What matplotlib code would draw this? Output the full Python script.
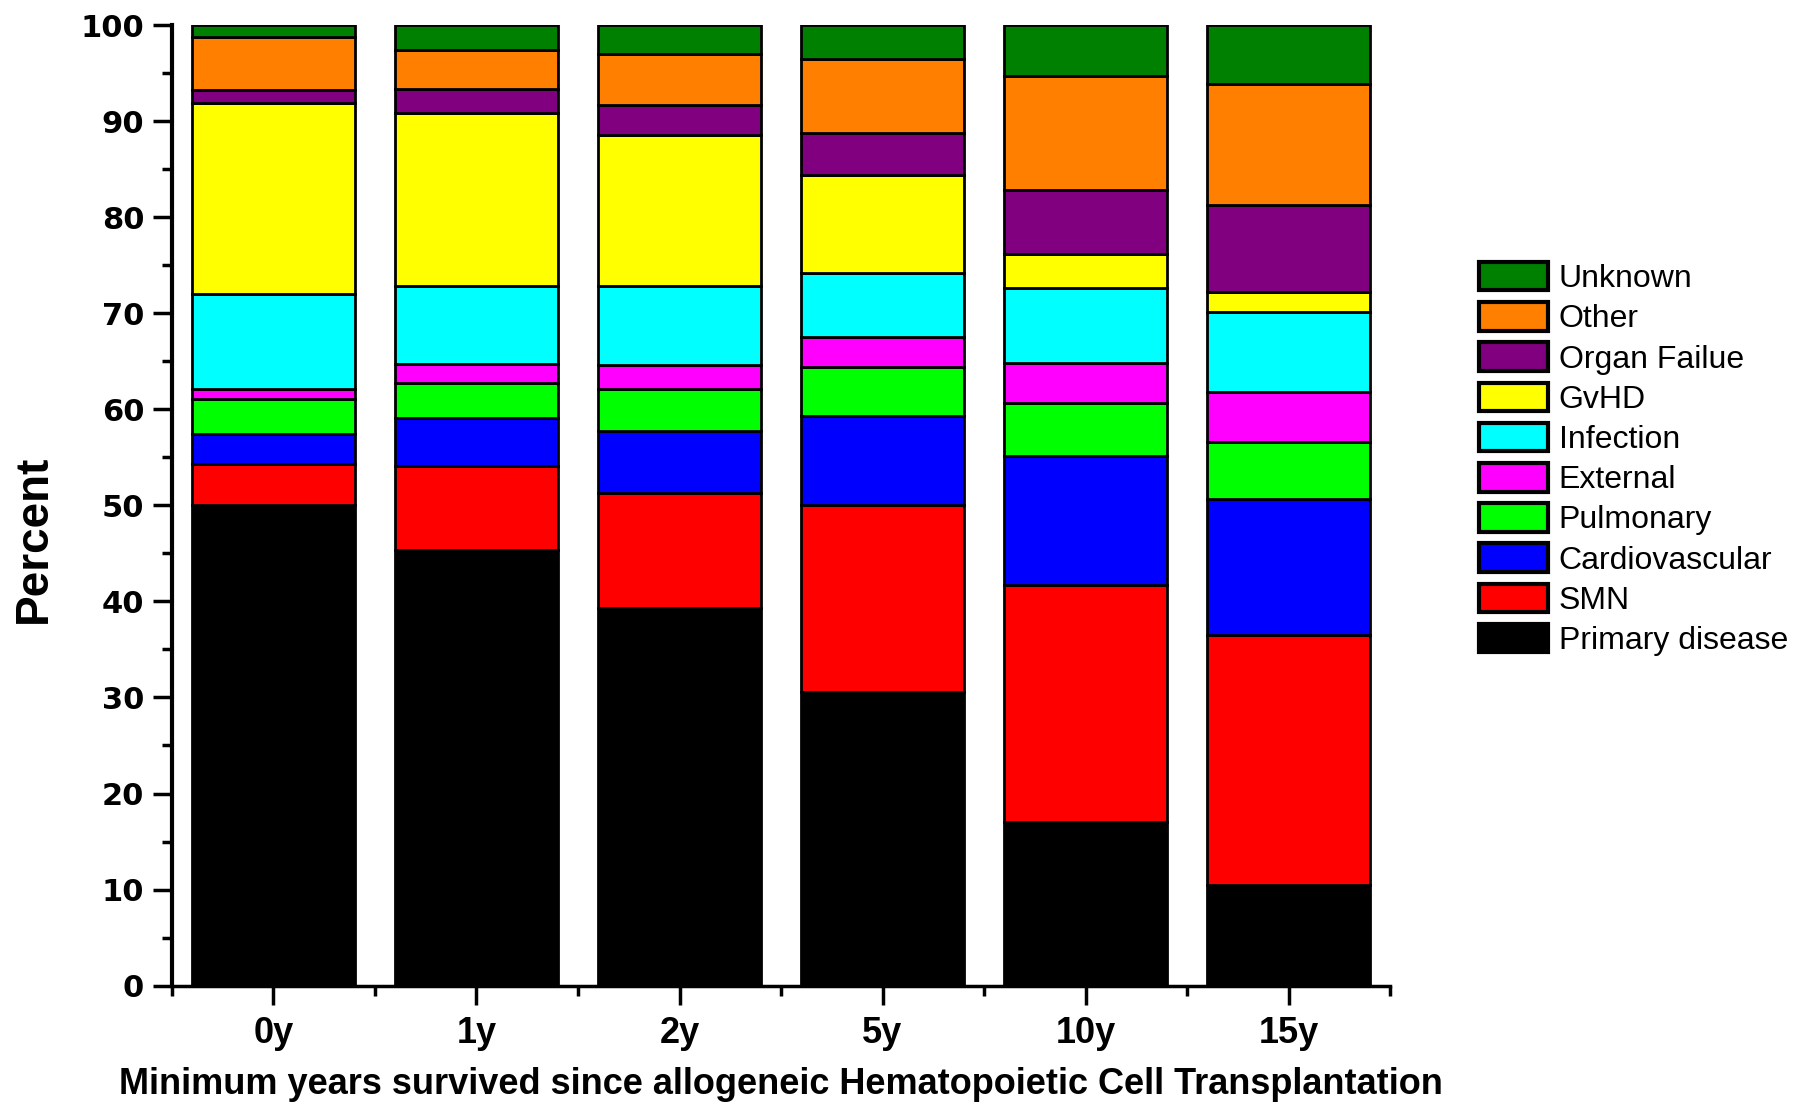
import numpy as np
import matplotlib
matplotlib.use("Agg")
import matplotlib.pyplot as plt
from matplotlib.ticker import MultipleLocator, FixedLocator

years = ['0y', '1y', '2y', '5y', '10y', '15y']

# percent of deaths by cause, bottom of the stack first
primary_disease = [50.0, 45.4, 39.3, 30.6, 17.0, 10.5]
smn = [4.3, 8.7, 12.0, 19.4, 24.7, 26.0]
cardiovascular = [3.1, 5.0, 6.5, 9.3, 13.4, 14.2]
pulmonary = [3.7, 3.7, 4.3, 5.1, 5.6, 5.9]
external = [1.0, 1.9, 2.5, 3.1, 4.1, 5.2]
infection = [9.9, 8.2, 8.2, 6.7, 7.8, 8.3]
gvhd = [19.9, 18.0, 15.8, 10.2, 3.6, 2.1]
organ_failure = [1.4, 2.5, 3.1, 4.4, 6.7, 9.1]
other = [5.5, 4.0, 5.3, 7.7, 11.8, 12.6]
unknown = [1.2, 2.6, 3.0, 3.5, 5.3, 6.1]

causes = ['Primary disease', 'SMN', 'Cardiovascular', 'Pulmonary', 'External',
          'Infection', 'GvHD', 'Organ Failue', 'Other', 'Unknown']
series = [primary_disease, smn, cardiovascular, pulmonary, external,
          infection, gvhd, organ_failure, other, unknown]
colors = ['#000000', '#ff0000', '#0000ff', '#00ff00', '#ff00ff',
          '#00ffff', '#ffff00', '#800080', '#ff8000', '#008000']

narrow = ['Liberation Sans Narrow', 'Liberation Sans', 'DejaVu Sans']

fig = plt.figure(figsize=(18.01, 11.05), dpi=100)
ax = fig.add_axes([0.0955, 0.1081, 0.6763, 0.869])

x = np.arange(len(years))
bottom = np.zeros(len(years))
handles = []
for name, vals, c in zip(causes, series, colors):
    vals = np.array(vals)
    b = ax.bar(x, vals, width=0.8, bottom=bottom, color=c, edgecolor='black',
               linewidth=2, label=name)
    handles.append(b)
    bottom += vals

ax.set_xlim(-0.5, 5.5)
ax.set_ylim(0, 100)

for s in ['top', 'right']:
    ax.spines[s].set_visible(False)
ax.spines['left'].set_linewidth(3)
ax.spines['bottom'].set_linewidth(2.5)

ax.yaxis.set_major_locator(MultipleLocator(10))
ax.yaxis.set_minor_locator(MultipleLocator(5))
ax.set_xticks(x)
ax.set_xticklabels(years)
ax.xaxis.set_minor_locator(FixedLocator(np.arange(-0.5, 6, 1.0)))

ax.tick_params(axis='y', which='major', direction='out', length=14, width=2.5, pad=6)
ax.tick_params(axis='y', which='minor', direction='out', length=7, width=2.5)
ax.tick_params(axis='x', which='major', direction='out', length=14, width=2.5, pad=8)
ax.tick_params(axis='x', which='minor', direction='out', length=7, width=2.5)

for lab in ax.get_yticklabels():
    lab.set_fontfamily(['DejaVu Sans'])
    lab.set_fontweight('bold')
    lab.set_fontsize(22)
for lab in ax.get_xticklabels():
    lab.set_fontfamily(narrow)
    lab.set_fontweight('bold')
    lab.set_fontsize(26)

fig.text(0.4337, 0.019, 'Minimum years survived since allogeneic Hematopoietic Cell Transplantation',
         ha='center', va='center', fontsize=26, fontweight='bold', family=narrow)
fig.text(0.019, 0.512, 'Percent', rotation=90, ha='center', va='center',
         fontsize=33, fontweight='bold', family=narrow)

leg = fig.legend(handles[::-1], causes[::-1], loc='upper left',
                 bbox_to_anchor=(0.8212, 0.763), frameon=False,
                 prop={'family': ['Liberation Sans', 'DejaVu Sans'], 'size': 23},
                 handlelength=2.15, handleheight=1.0, labelspacing=0.25,
                 handletextpad=0.35, borderpad=0, borderaxespad=0)
for p in leg.get_patches():
    p.set_linewidth(3)

fig.savefig('out.png', dpi=100)
